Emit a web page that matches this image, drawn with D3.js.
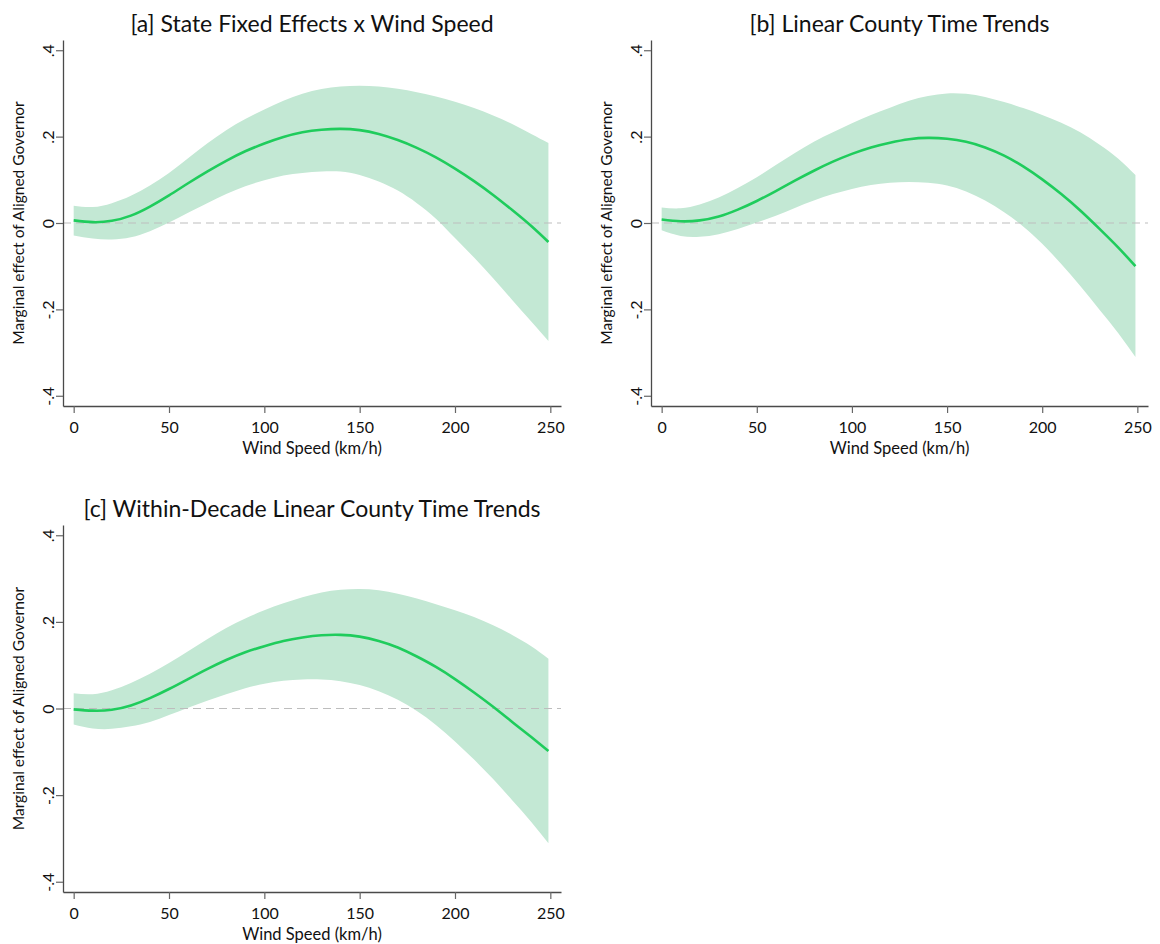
<!DOCTYPE html>
<html>
<head>
<meta charset="utf-8">
<script src="https://cdn.jsdelivr.net/npm/d3@7"></script>
<style>
  body { margin: 0; background: #fff; }
  text { font-family: Lato, "Open Sans", sans-serif; fill: #111; }
</style>
</head>
<body>
<div id="chart"></div>
<script>
// wind speed grid (km/h)
var windSpeed = [0, 10, 20, 30, 40, 50, 60, 70, 80, 90, 100, 110, 120, 130, 140, 150, 160, 170, 180, 190, 200, 210, 220, 230, 240, 249]

// [a] State Fixed Effects x Wind Speed
var estA = [.006, .002, .005, .017, .038, .064, .092, .119, .144, .166, .184, .199, .210, .216, .218, .215, .206, .192, .174, .152, .126, .097, .065, .030, -.007, -.044]
var loA = [-.029, -.036, -.038, -.033, -.019, .001, .024, .046, .067, .085, .099, .110, .116, .119, .119, .111, .096, .075, .046, .010, -.035, -.080, -.128, -.178, -.228, -.273]
var hiA = [.040, .037, .046, .063, .087, .116, .150, .184, .215, .241, .263, .283, .299, .310, .316, .318, .316, .311, .303, .293, .281, .266, .249, .229, .206, .185]

// [b] Linear County Time Trends
var estB = [.008, .004, .006, .015, .031, .051, .074, .098, .121, .142, .160, .175, .186, .194, .197, .195, .188, .175, .156, .131, .101, .067, .029, -.013, -.057, -.100]
var loB = [-.017, -.030, -.032, -.026, -.014, .001, .017, .035, .052, .067, .079, .088, .093, .095, .093, .087, .073, .052, .025, -.008, -.048, -.095, -.146, -.200, -.255, -.310]
var hiB = [.036, .034, .043, .059, .081, .106, .134, .162, .188, .210, .231, .250, .267, .283, .294, .300, .299, .292, .280, .266, .250, .232, .210, .182, .149, .111]

// [c] Within-Decade Linear County Time Trends
var estC = [-.002, -.005, -.003, .007, .024, .045, .068, .091, .112, .130, .144, .156, .164, .169, .170, .166, .156, .141, .120, .096, .068, .037, .004, -.031, -.066, -.098]
var loC = [-.037, -.046, -.047, -.041, -.031, -.015, .002, .018, .033, .047, .057, .064, .067, .067, .063, .054, .040, .020, -.006, -.038, -.076, -.118, -.163, -.212, -.262, -.311]
var hiC = [.035, .033, .042, .059, .080, .105, .132, .160, .186, .208, .227, .243, .257, .268, .274, .276, .273, .265, .254, .241, .227, .211, .192, .170, .144, .115]

var titles = ["[a] State Fixed Effects x Wind Speed", "[b] Linear County Time Trends", "[c] Within-Decade Linear County Time Trends"]
var xTicks = [0, 50, 100, 150, 200, 250]
var yTicks = [-.4, -.2, 0, .2, .4]
var yTickLabels = ["-.4", "-.2", "0", ".2", ".4"]
var xTitle = "Wind Speed (km/h)"
var yTitle = "Marginal effect of Aligned Governor"

var lineColor = "#1fcc5c"
var bandColor = "#c3e8d4"

var svg = d3.select("#chart")
    .append("svg")
    .attr("width", 1160)
    .attr("height", 944)

// plot regions (inner axis box) for each panel
var panels = [
    { left: 63, right: 561, top: 40, bottom: 406, est: estA, lo: loA, hi: hiA },
    { left: 651, right: 1148, top: 40, bottom: 406, est: estB, lo: loB, hi: hiB },
    { left: 63, right: 561, top: 525, bottom: 892, est: estC, lo: loC, hi: hiC }
]

panels.forEach(function (p, i) {
    drawPanel(p, titles[i])
})

function drawPanel(p, title) {
    var g = svg.append("g")

    var x = d3.scaleLinear()
        .domain([-5.6, 255.6])
        .range([p.left, p.right])

    var y = d3.scaleLinear()
        .domain([-0.4237, 0.4237])
        .range([p.bottom, p.top])

    var rows = windSpeed.map(function (w, j) {
        return { w: w, est: p.est[j], lo: p.lo[j], hi: p.hi[j] }
    })

    // confidence band
    var area = d3.area()
        .curve(d3.curveNatural)
        .x(function (d) { return x(d.w) })
        .y0(function (d) { return y(d.lo) })
        .y1(function (d) { return y(d.hi) })

    g.append("path")
        .datum(rows)
        .attr("fill", bandColor)
        .attr("d", area)

    // zero reference line
    g.append("line")
        .attr("x1", p.left)
        .attr("x2", p.right)
        .attr("y1", y(0))
        .attr("y2", y(0))
        .attr("stroke", "#bdbdbd")
        .attr("stroke-width", 1.2)
        .attr("stroke-dasharray", "8,5")

    // point estimate
    var line = d3.line()
        .curve(d3.curveNatural)
        .x(function (d) { return x(d.w) })
        .y(function (d) { return y(d.est) })

    g.append("path")
        .datum(rows)
        .attr("fill", "none")
        .attr("stroke", lineColor)
        .attr("stroke-width", 2.6)
        .attr("d", line)

    // x axis
    var xAxis = g.append("g")
        .attr("transform", "translate(0," + p.bottom + ")")
        .call(d3.axisBottom(x).tickValues(xTicks).tickSize(7).tickSizeOuter(0).tickPadding(9).tickFormat(d3.format("d")))
    styleAxis(xAxis)

    // y axis
    var yAxis = g.append("g")
        .attr("transform", "translate(" + p.left + ",0)")
        .call(d3.axisLeft(y).tickValues(yTicks).tickSize(7).tickSizeOuter(0)
            .tickFormat(function (d, k) { return yTickLabels[k] }))
    styleAxis(yAxis)
    yAxis.selectAll(".tick text")
        .attr("transform", "rotate(-90)")
        .attr("x", 0)
        .attr("y", -9)
        .attr("dy", 0)
        .attr("text-anchor", "middle")

    // titles
    g.append("text")
        .attr("x", (p.left + p.right) / 2)
        .attr("y", p.top - 8)
        .attr("text-anchor", "middle")
        .style("font-size", "23px")
        .text(title)

    g.append("text")
        .attr("x", (p.left + p.right) / 2)
        .attr("y", p.bottom + 48)
        .attr("text-anchor", "middle")
        .style("font-size", "16.5px")
        .text(xTitle)

    g.append("text")
        .attr("transform", "translate(" + (p.left - 39) + "," + y(0) + ") rotate(-90)")
        .attr("text-anchor", "middle")
        .style("font-size", "15.5px")
        .text(yTitle)
}

function styleAxis(ax) {
    ax.select(".domain").attr("stroke", "#4a4a4a").attr("stroke-width", 1.3)
    ax.selectAll(".tick line").attr("stroke", "#666").attr("stroke-width", 1.2)
    ax.selectAll(".tick text")
        .style("font-size", "16px")
        .style("font-family", "Lato, sans-serif")
        .attr("fill", "#111")
}
</script>
</body>
</html>
